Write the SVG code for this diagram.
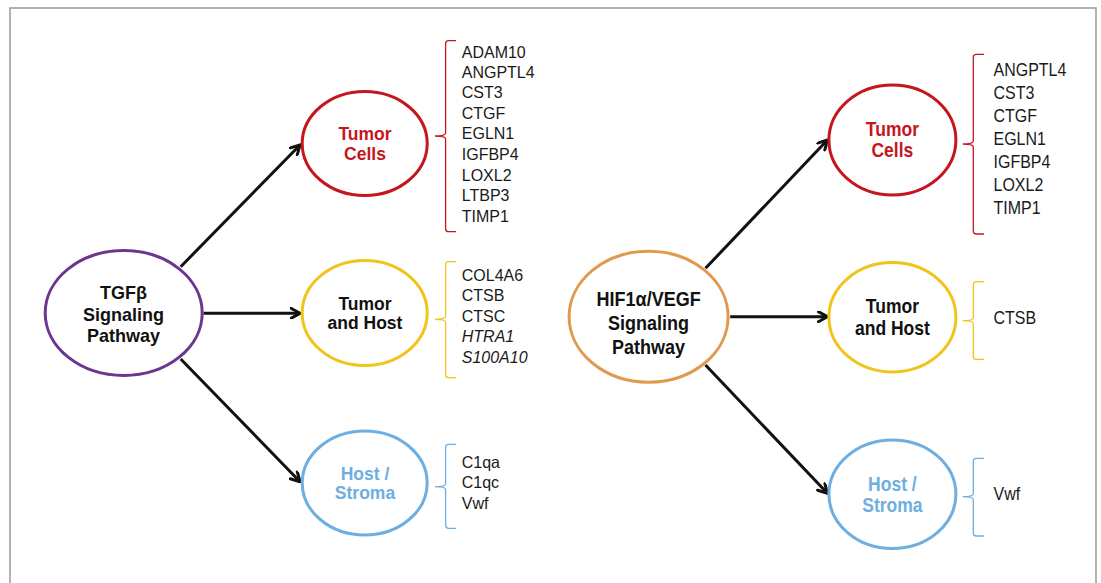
<svg xmlns="http://www.w3.org/2000/svg" width="1101" height="583" viewBox="0 0 1101 583">
<style>
.node{fill:none;stroke-width:3}
.lbl{font-family:"Liberation Sans",Arial,sans-serif;font-weight:bold;font-size:17.5px;text-anchor:middle}
.main{font-size:18px;fill:#111}
.gene{font-family:"Liberation Sans",Arial,sans-serif;font-size:16px;fill:#1a1a1a}
.it{font-style:italic}
.br{fill:none;stroke-width:1.3}
.arr{stroke:#111;stroke-width:3;fill:none}
</style>
<defs>
<marker id="ah" viewBox="0 0 12 12" refX="10.5" refY="6" markerWidth="12" markerHeight="12" markerUnits="userSpaceOnUse" orient="auto">
<path d="M1.5,1 L10.5,6 L1.5,11" fill="none" stroke="#111" stroke-width="3" stroke-linecap="round" stroke-linejoin="miter"/>
</marker>
</defs>
<rect x="10" y="8" width="1086" height="600" fill="#fff" stroke="#999" stroke-width="1.5"/>

<g id="connectors">
<line class="arr" x1="180.7" y1="266.7" x2="300" y2="145" marker-end="url(#ah)"/>
<line class="arr" x1="203.5" y1="313.3" x2="300" y2="313.3" marker-end="url(#ah)"/>
<line class="arr" x1="180.7" y1="359" x2="300" y2="481.7" marker-end="url(#ah)"/>
<line class="arr" x1="705.5" y1="268.3" x2="827.4" y2="140" marker-end="url(#ah)"/>
<line class="arr" x1="730.2" y1="316.7" x2="827.4" y2="316.7" marker-end="url(#ah)"/>
<line class="arr" x1="705.5" y1="365" x2="827.4" y2="493.3" marker-end="url(#ah)"/>
</g>

<g id="tgfb">
<ellipse class="node" cx="123.7" cy="313" rx="78.5" ry="62.5" stroke="#6b3590"/>
<text class="lbl main" transform="translate(123.5,298.7) scale(1,1.03)">TGFβ</text>
<text class="lbl main" transform="translate(123.5,320.7) scale(1,1.03)">Signaling</text>
<text class="lbl main" transform="translate(123.5,341.7) scale(1,1.03)">Pathway</text>
</g>

<g id="l-tumor">
<ellipse class="node" cx="364.7" cy="143.5" rx="62.5" ry="52" stroke="#c4161c"/>
<text class="lbl" fill="#c4161c" transform="translate(365,139.6) scale(1,1.05)">Tumor</text>
<text class="lbl" fill="#c4161c" transform="translate(365,159.6) scale(1,1.05)">Cells</text>
</g>
<g id="l-tumor-genes">
<path class="br" stroke="#c4161c" d="M456,40.7 L448.6,40.7 Q445.6,40.7 445.6,43.7 L445.6,133 Q445.6,136 435,136 Q445.6,136 445.6,139 L445.6,228.7 Q445.6,231.7 448.6,231.7 L456,231.7"/>
<g class="gene" transform="translate(461.8,57.5) scale(1,1.07)">
<text x="0" y="0">ADAM10</text>
<text x="0" y="19.16">ANGPTL4</text>
<text x="0" y="38.32">CST3</text>
<text x="0" y="57.48">CTGF</text>
<text x="0" y="76.64">EGLN1</text>
<text x="0" y="95.8">IGFBP4</text>
<text x="0" y="114.96">LOXL2</text>
<text x="0" y="134.12">LTBP3</text>
<text x="0" y="153.28">TIMP1</text>
</g>
</g>

<g id="l-host-tumor">
<ellipse class="node" cx="364.7" cy="313" rx="62.5" ry="52.5" stroke="#f0c419"/>
<text class="lbl" fill="#111" transform="translate(365,310) scale(1,1.05)">Tumor</text>
<text class="lbl" fill="#111" transform="translate(365,329.3) scale(1,1.05)">and Host</text>
</g>
<g id="l-host-tumor-genes">
<path class="br" stroke="#f0c419" d="M456,261.7 L448.6,261.7 Q445.6,261.7 445.6,264.7 L445.6,316.3 Q445.6,319.3 435,319.3 Q445.6,319.3 445.6,322.3 L445.6,374.7 Q445.6,377.7 448.6,377.7 L456,377.7"/>
<g class="gene" transform="translate(461.8,281) scale(1,1.07)">
<text x="0" y="0">COL4A6</text>
<text x="0" y="19.16">CTSB</text>
<text x="0" y="38.32">CTSC</text>
<text class="it" x="0" y="57.48">HTRA1</text>
<text class="it" x="0" y="76.64">S100A10</text>
</g>
</g>

<g id="l-stroma">
<ellipse class="node" cx="364.7" cy="483" rx="62.5" ry="52" stroke="#6eaee0"/>
<text class="lbl" fill="#6eaee0" transform="translate(365,480) scale(1,1.05)">Host /</text>
<text class="lbl" fill="#6eaee0" transform="translate(365,499) scale(1,1.05)">Stroma</text>
</g>
<g id="l-stroma-genes">
<path class="br" stroke="#6eaee0" d="M456,444.3 L448.6,444.3 Q445.6,444.3 445.6,447.3 L445.6,483.7 Q445.6,486.7 435,486.7 Q445.6,486.7 445.6,489.7 L445.6,525.3 Q445.6,528.3 448.6,528.3 L456,528.3"/>
<g class="gene" transform="translate(461.8,468) scale(1,1.07)">
<text x="0" y="0">C1qa</text>
<text x="0" y="19.16">C1qc</text>
<text x="0" y="38.32">Vwf</text>
</g>
</g>

<g id="hif">
<ellipse class="node" cx="648.6" cy="316.7" rx="79.5" ry="65.5" stroke="#e09a50"/>
<text class="lbl main" transform="translate(648.6,305.8) scale(1,1.16)">HIF1α/VEGF</text>
<text class="lbl main" transform="translate(648.6,330.2) scale(1,1.16)">Signaling</text>
<text class="lbl main" transform="translate(648.6,354.2) scale(1,1.16)">Pathway</text>
</g>

<g id="r-tumor">
<ellipse class="node" cx="892.4" cy="140" rx="63.5" ry="55" stroke="#c4161c"/>
<text class="lbl" fill="#c4161c" transform="translate(892.4,136.3) scale(1,1.17)">Tumor</text>
<text class="lbl" fill="#c4161c" transform="translate(892.4,157.3) scale(1,1.17)">Cells</text>
</g>
<g id="r-tumor-genes">
<path class="br" stroke="#c4161c" d="M984,54.3 L976.3,54.3 Q973.3,54.3 973.3,57.3 L973.3,141 Q973.3,144 962.7,144 Q973.3,144 973.3,147 L973.3,231 Q973.3,234 976.3,234 L984,234"/>
<g class="gene" transform="translate(993.5,75.9) scale(1,1.18)">
<text x="0" y="0">ANGPTL4</text>
<text x="0" y="19.53">CST3</text>
<text x="0" y="39.06">CTGF</text>
<text x="0" y="58.59">EGLN1</text>
<text x="0" y="78.12">IGFBP4</text>
<text x="0" y="97.65">LOXL2</text>
<text x="0" y="117.18">TIMP1</text>
</g>
</g>

<g id="r-host-tumor">
<ellipse class="node" cx="892.4" cy="317.2" rx="63.5" ry="54.7" stroke="#f0c419"/>
<text class="lbl" fill="#111" transform="translate(892.4,313.3) scale(1,1.17)">Tumor</text>
<text class="lbl" fill="#111" transform="translate(892.4,334.6) scale(1,1.17)">and Host</text>
</g>
<g id="r-host-tumor-genes">
<path class="br" stroke="#f0c419" d="M984,281.7 L976.3,281.7 Q973.3,281.7 973.3,284.7 L973.3,317.7 Q973.3,320.7 962.7,320.7 Q973.3,320.7 973.3,323.7 L973.3,356.3 Q973.3,359.3 976.3,359.3 L984,359.3"/>
<g class="gene" transform="translate(993.5,324) scale(1,1.18)">
<text x="0" y="0">CTSB</text>
</g>
</g>

<g id="r-stroma">
<ellipse class="node" cx="892.4" cy="494.2" rx="63.5" ry="54.3" stroke="#6eaee0"/>
<text class="lbl" fill="#6eaee0" transform="translate(892.4,490.6) scale(1,1.17)">Host /</text>
<text class="lbl" fill="#6eaee0" transform="translate(892.4,512.3) scale(1,1.17)">Stroma</text>
</g>
<g id="r-stroma-genes">
<path class="br" stroke="#6eaee0" d="M984,458.3 L976.3,458.3 Q973.3,458.3 973.3,461.3 L973.3,493.7 Q973.3,496.7 962.7,496.7 Q973.3,496.7 973.3,499.7 L973.3,533 Q973.3,536 976.3,536 L984,536"/>
<g class="gene" transform="translate(993.5,500) scale(1,1.18)">
<text x="0" y="0">Vwf</text>
</g>
</g>
</svg>
